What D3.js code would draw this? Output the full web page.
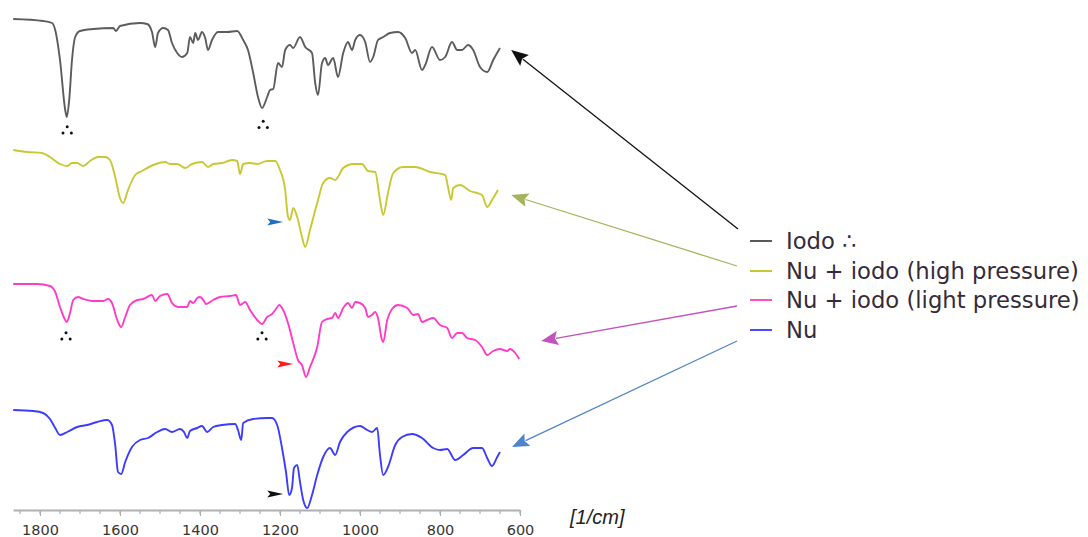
<!DOCTYPE html>
<html><head><meta charset="utf-8">
<script src="https://cdn.jsdelivr.net/npm/d3@7"></script>
<style>body{margin:0;background:#fff;} svg{display:block;}</style>
</head><body><svg id="c" width="1088" height="537"></svg>
<script>
// ---- data (wavenumber in 1/cm, transmittance in arbitrary % units per trace) ----
const seriesNames = ["Iodo \u2234", "Nu + iodo (high pressure)", "Nu + iodo (light pressure)", "Nu"];

const wnIodo = [1867,1792,1770,1762,1750,1737,1733,1727,1720,1712,1700,1667,1617,1610,1600,1550,1532,1520,1512,1505,1492,1480,1470,1457,1445,1432,1425,1417,1412,1405,1395,1387,1380,1370,1355,1332,1307,1292,1280,1267,1255,1245,1232,1225,1217,1205,1195,1187,1175,1167,1150,1137,1120,1112,1105,1095,1087,1080,1067,1055,1042,1030,1020,1012,1000,987,975,967,955,942,925,905,887,870,862,845,837,820,800,787,770,757,745,730,717,700,682,667,650];
const tIodo  = [99,97,95,88,58,8,1,18,58,81,87,89,90,87,92,95,94,86,71,85,90,88,75,65,61,65,81,75,85,78,86,80,68,78,86,86,87,78,68,45,21,10,21,28,29,55,51,68,73,70,81,71,65,35,23,55,60,53,60,41,65,76,68,78,83,76,56,61,78,81,85,86,80,65,68,48,53,71,58,61,76,68,68,73,68,51,46,58,70];

const wnHigh = [1867,1832,1795,1775,1750,1732,1720,1707,1692,1675,1655,1637,1625,1612,1600,1592,1580,1562,1545,1517,1487,1475,1457,1437,1420,1395,1380,1367,1345,1320,1307,1300,1292,1275,1257,1232,1212,1200,1187,1180,1175,1167,1157,1145,1137,1125,1107,1092,1075,1062,1042,1017,995,980,962,950,942,930,917,892,862,825,787,780,772,767,750,725,695,682,670,655];
const tHigh  = [98,96,95,91,84,82,85,85,82,87,91,91,88,71,50,45,58,73,77,83,86,84,84,80,84,86,81,84,85,88,87,74,84,85,84,87,87,78,58,31,28,40,31,11,1,18,45,65,70,68,80,84,84,77,76,48,33,55,75,81,81,76,73,61,48,60,63,57,53,41,48,58];

const wnLight = [1867,1807,1775,1762,1750,1737,1733,1725,1717,1705,1692,1670,1642,1630,1620,1607,1597,1587,1575,1557,1542,1520,1512,1500,1482,1470,1455,1432,1425,1417,1407,1400,1390,1385,1367,1350,1325,1310,1300,1287,1275,1257,1245,1232,1220,1210,1202,1192,1180,1167,1155,1145,1135,1125,1107,1095,1082,1070,1062,1055,1042,1030,1020,1012,1000,987,980,970,962,955,945,942,932,920,905,882,867,855,845,832,817,800,782,770,757,745,732,712,695,682,667,650,632,625,612,602];
const tLight  = [96,96,94,88,73,60,58,67,80,83,81,79,79,81,77,60,53,63,75,80,81,85,79,84,86,77,73,73,79,77,82,83,79,76,80,83,84,85,75,78,70,60,56,63,66,71,75,70,57,37,20,15,3,13,33,58,61,62,67,62,72,77,72,78,77,72,63,65,68,62,40,38,60,71,75,72,65,66,58,60,62,55,52,42,47,47,42,40,33,25,29,31,29,31,27,21];

const wnNu = [1867,1817,1792,1775,1762,1750,1732,1707,1682,1657,1632,1620,1612,1605,1597,1587,1570,1550,1530,1507,1487,1470,1450,1440,1432,1425,1407,1395,1382,1367,1345,1312,1305,1297,1292,1267,1232,1220,1207,1195,1185,1177,1170,1165,1157,1150,1142,1132,1120,1107,1092,1075,1062,1050,1032,1000,982,970,957,950,942,930,912,895,870,845,817,800,782,762,742,717,695,682,670,657,650];
const tNu  = [99,98,96,90,81,74,77,82,84,87,89,84,64,37,35,47,62,69,71,77,80,77,80,77,71,78,81,83,77,82,84,85,79,69,86,90,91,91,84,61,37,14,21,41,44,27,9,1,14,34,52,61,54,67,77,83,79,77,81,54,34,42,64,72,75,71,61,59,60,49,54,61,61,51,43,52,57];

const tickLabels = [1800, 1600, 1400, 1200, 1000, 800, 600];
const minorTicks = d3.range(600, 1851, 50);
const axisUnit = "[1/cm]";

// peak markers (series index, wavenumber, level)
const peakMarks = [[0, 1732, -12], [0, 1242, -6.5], [2, 1735, 44], [2, 1245, 44]];
// pointer arrowheads (series index, wavenumber, level)
const pointers = [[1, 1192, 26], [2, 1167, 16], [3, 1192, 15]];
// legend arrow tips (series index, wavenumber, level)
const arrowTips = [[0, 622, 68], [1, 622, 53], [2, 547, 39], [3, 620, 62]];

// ---- layout / style ----
const series = [[wnIodo, tIodo], [wnHigh, tHigh], [wnLight, tLight], [wnNu, tNu]];
const bandTop = [18, 148, 280, 409];
const lineColors = ["#5c5c5c", "#c8c832", "#ff3cc8", "#3c3cff"];
const legendColors = ["#5a5a5a", "#c8c832", "#ff50c8", "#4a4aff"];
const arrowColors = ["#111111", "#a4b45c", "#c452bc", "#4f84cc"];
const pointerColors = ["#1e6fc0", "#ff1a1a", "#111111"];
const legendY = [241, 271, 300, 330];
const arrowStart = [[738, 229], [737, 266], [737, 306], [737, 341]];

const svg = d3.select("#c");
const x = d3.scaleLinear().domain([1867.5, 600]).range([13, 520]);
const yT = d3.scaleLinear().domain([0, 100]).range([100, 0]);
const py = (i, t) => bandTop[i] + yT(t);

// spectra
series.forEach(([wn, t], i) => {
  const data = wn.map((w, j) => ({ w, t: t[j] }));
  svg.append("path").datum(data)
    .attr("transform", `translate(0,${bandTop[i]})`)
    .attr("fill", "none").attr("stroke", lineColors[i]).attr("stroke-width", 1.9)
    .attr("stroke-linejoin", "round")
    .attr("d", d3.line().x(d => x(d.w)).y(d => yT(d.t)).curve(d3.curveMonotoneX));
});

// peak markers ∴
peakMarks.forEach(([s, w, t]) => {
  const cx = x(w), cy = py(s, t);
  [[0, -3.2], [-4.2, 3], [4.2, 3]].forEach(([dx, dy]) => {
    svg.append("circle").attr("cx", cx + dx).attr("cy", cy + dy).attr("r", 1.5).attr("fill", "#111");
  });
});

// pointer triangles
pointers.forEach(([s, w, t], k) => {
  const tx = x(w), ty = py(s, t);
  svg.append("path")
    .attr("d", `M${tx},${ty} L${tx - 16},${ty - 3.5} L${tx - 13},${ty} L${tx - 16},${ty + 3.5} Z`)
    .attr("fill", pointerColors[k]);
});

// axis
const axisG = svg.append("g").attr("transform", "translate(0,510)");
minorTicks.forEach(v => {
  axisG.append("line").attr("x1", x(v)).attr("x2", x(v)).attr("y1", 0).attr("y2", 4)
    .attr("stroke", "#b0b0b0").attr("stroke-width", 1.2);
});
axisG.call(d3.axisBottom(x).tickValues(tickLabels).tickSize(6).tickSizeOuter(0).tickPadding(9).tickFormat(d3.format("d")));
axisG.select(".domain").attr("stroke", "#b0b0b0").attr("stroke-width", 2);
axisG.selectAll(".tick line").attr("stroke", "#b0b0b0").attr("stroke-width", 1.2);
axisG.selectAll(".tick text").attr("font-family", "DejaVu Sans, Verdana, sans-serif")
  .attr("font-size", 14.5).attr("fill", "#3a3535");

svg.append("text").attr("x", 570).attr("y", 524)
  .attr("font-family", "Liberation Sans, Arial, sans-serif").attr("font-style", "italic")
  .attr("font-size", 20).attr("fill", "#222").text(axisUnit);

// legend
seriesNames.forEach((name, i) => {
  svg.append("line").attr("x1", 750).attr("x2", 772).attr("y1", legendY[i]).attr("y2", legendY[i])
    .attr("stroke", legendColors[i]).attr("stroke-width", 2);
  svg.append("text").attr("x", 786).attr("y", legendY[i]).attr("dy", "0.36em")
    .attr("font-family", "DejaVu Sans, Verdana, sans-serif").attr("font-size", 22.7)
    .attr("fill", "#352b3a").text(name);
});

// legend arrows
arrowTips.forEach(([s, w, t], i) => {
  const [x0, y0] = arrowStart[i];
  const x1 = x(w), y1 = py(s, t);
  const ang = Math.atan2(y1 - y0, x1 - x0);
  const L = 17, W = 7;
  const bx = x1 - L * Math.cos(ang), by = y1 - L * Math.sin(ang);
  svg.append("line").attr("x1", x0).attr("y1", y0).attr("x2", bx + 2 * Math.cos(ang)).attr("y2", by + 2 * Math.sin(ang))
    .attr("stroke", arrowColors[i]).attr("stroke-width", 1.3);
  const nx = -Math.sin(ang), ny = Math.cos(ang);
  svg.append("path")
    .attr("d", `M${x1},${y1} L${bx + W * nx},${by + W * ny} L${bx + 3 * Math.cos(ang)},${by + 3 * Math.sin(ang)} L${bx - W * nx},${by - W * ny} Z`)
    .attr("fill", arrowColors[i]);
});
</script></body></html>
